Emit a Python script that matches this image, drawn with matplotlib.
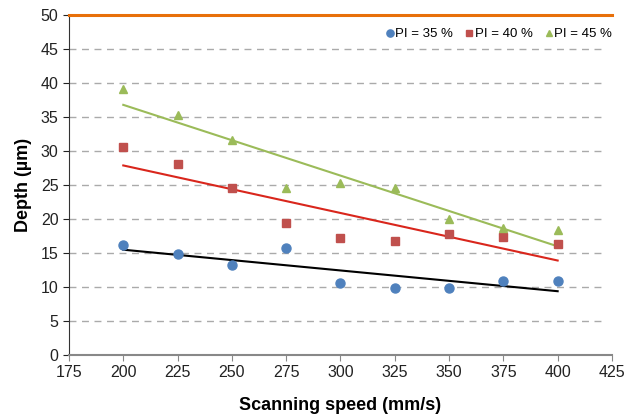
import matplotlib
matplotlib.use("Agg")
import matplotlib.pyplot as plt
import numpy as np

plt.rcParams['font.family'] = ['Liberation Sans', 'DejaVu Sans']

speed = [200, 225, 250, 275, 300, 325, 350, 375, 400]
depth_35 = [16.1, 14.9, 13.2, 15.7, 10.5, 9.8, 9.8, 10.8, 10.9]
depth_40 = [30.5, 28.0, 24.5, 19.4, 17.2, 16.8, 17.8, 17.3, 16.3]
depth_45 = [39.1, 35.3, 31.6, 24.5, 25.3, 24.5, 20.0, 18.6, 18.4]
labels = ["PI = 35 %", "PI = 40 %", "PI = 45 %"]

fig = plt.figure(figsize=(6.27, 4.15), dpi=100)
ax = fig.add_axes([0.110, 0.145, 0.866, 0.819])

series = [
    (depth_35, "o", "#4F81BD", "black", 6.5),
    (depth_40, "s", "#C0504D", "#D9261C", 6),
    (depth_45, "^", "#9BBB59", "#9BBB59", 6),
]
x = np.array(speed)
for (ys, mk, col, lcol, ms), lab in zip(series, labels):
    ax.plot(x, ys, linestyle="none", marker=mk, color=col, markersize=ms, label=lab, zorder=3)
    k, b = np.polyfit(x, ys, 1)
    ax.plot(x[[0, -1]], k * x[[0, -1]] + b, color=lcol, linewidth=1.5, zorder=2)

ax.set_xlim(175, 425)
ax.set_ylim(0, 50)
ax.set_xticks(np.arange(175, 426, 25))
ax.set_yticks(np.arange(0, 51, 5))
for yv in range(5, 50, 5):
    ax.plot([175, 421], [yv, yv], color="#AAAAAA", linestyle=(0, (5, 4)), linewidth=1, zorder=1)

ax.spines["right"].set_visible(False)
ax.spines["top"].set_color("#E8700A")
ax.spines["top"].set_linewidth(2.2)
ax.spines["left"].set_color("#333333")
ax.spines["bottom"].set_color("#888888")
ax.spines["bottom"].set_linewidth(1.5)
ax.tick_params(axis="both", direction="out", labelsize=11.5, colors="#222222", length=4)
ax.tick_params(axis="x", color="#888888")

ax.set_xlabel("Scanning speed (mm/s)", fontsize=13, fontweight="bold", labelpad=12)
ax.set_ylabel("Depth (µm)", fontsize=13, fontweight="bold", labelpad=6)

ax.legend(loc="upper right", ncol=3, frameon=False, fontsize=9.5, handlelength=0.5,
          handletextpad=0.15, columnspacing=1.0, markerscale=0.8,
          bbox_to_anchor=(1.015, 0.985), borderaxespad=0.2)

fig.savefig("out.png", dpi=100)
